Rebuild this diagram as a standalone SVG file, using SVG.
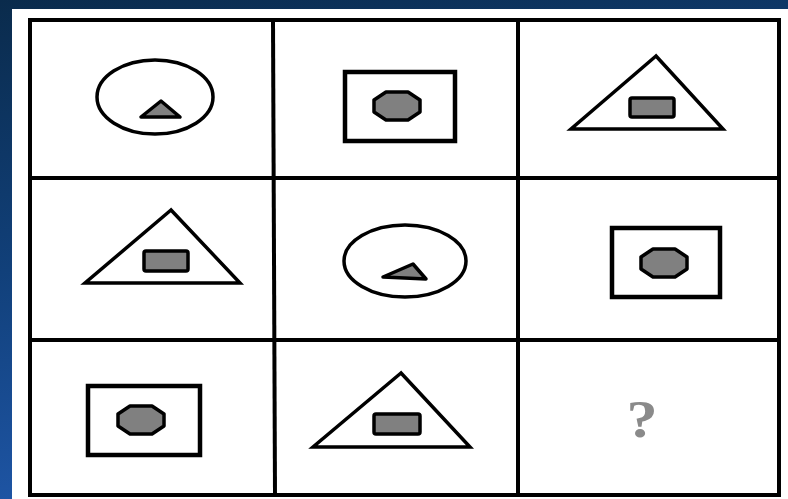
<svg xmlns="http://www.w3.org/2000/svg" width="788" height="499" viewBox="0 0 788 499">
<defs>
<linearGradient id="bg" x1="0" y1="0" x2="0.3" y2="1">
<stop offset="0" stop-color="#0a2b4c"/>
<stop offset="0.5" stop-color="#11407a"/>
<stop offset="1" stop-color="#2058ab"/>
</linearGradient>
<style>
.grid{stroke:#000;stroke-width:4;fill:none}
.out{stroke:#000;stroke-width:3.5;fill:none}
.sq{stroke:#000;stroke-width:4.5;fill:none}
.in{stroke:#000;stroke-width:3.5;fill:#808080;stroke-linejoin:round}
.q{font-family:"Liberation Serif",serif;font-weight:bold;font-size:52px;fill:#8a8a8a}
</style>
</defs>
<rect width="788" height="499" fill="url(#bg)"/>
<rect x="12" y="9" width="776" height="490" fill="#fff"/>
<g id="grid">
<rect class="grid" x="30" y="20" width="749" height="475"/>
<line class="grid" x1="273" y1="20" x2="275" y2="495"/>
<line class="grid" x1="518" y1="20" x2="518" y2="495"/>
<line class="grid" x1="30" y1="178" x2="779" y2="178" stroke-width="3"/>
<line class="grid" x1="30" y1="340" x2="779" y2="340" stroke-width="3"/>
</g>
<g id="cell-1-1">
<ellipse class="out" cx="155" cy="97" rx="58" ry="37"/>
<polygon class="in" points="141,117 161,101 180,117"/>
</g>
<g id="cell-1-2">
<rect class="sq" x="345" y="72" width="110" height="69"/>
<polygon class="in" points="386,92 408,92 420,100 420,112 408,120 386,120 374,112 374,100"/>
</g>
<g id="cell-1-3">
<polygon class="out" points="656,56 571,129 723,129"/>
<rect class="in" x="630" y="98" width="44" height="19" rx="2"/>
</g>
<g id="cell-2-1">
<polygon class="out" points="171,210 85,283 240,283"/>
<rect class="in" x="144" y="251" width="44" height="20" rx="2"/>
</g>
<g id="cell-2-2">
<ellipse class="out" cx="405" cy="261" rx="61" ry="36"/>
<polygon class="in" points="383,277 413,264 426,279"/>
</g>
<g id="cell-2-3">
<rect class="sq" x="612" y="228" width="108" height="69"/>
<polygon class="in" points="653,249 675,249 687,257 687,269 675,277 653,277 641,269 641,257"/>
</g>
<g id="cell-3-1">
<rect class="sq" x="88" y="386" width="112" height="69"/>
<polygon class="in" points="130,406 152,406 164,414 164,426 152,434 130,434 118,426 118,414"/>
</g>
<g id="cell-3-2">
<polygon class="out" points="401,373 313,447 470,447"/>
<rect class="in" x="374" y="414" width="46" height="20" rx="2"/>
</g>
<g id="cell-3-3">
<text class="q" x="0" y="0" text-anchor="middle" transform="translate(642,437) scale(1.2,1)">?</text>
</g>
</svg>
